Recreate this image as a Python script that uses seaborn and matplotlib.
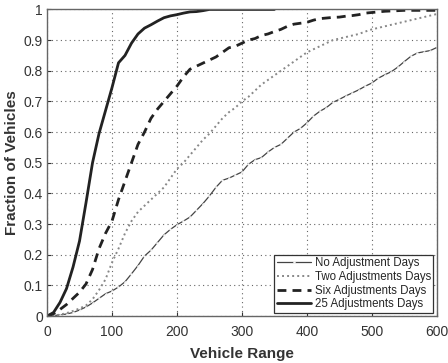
import numpy as np
import pandas as pd
import matplotlib.pyplot as plt
import seaborn as sns

# Vehicle range grid (every 10 units)
range_full = list(range(0, 610, 10))
range_25 = list(range(0, 360, 10))

no_adj = [0, 0.002, 0.004, 0.007, 0.012, 0.02, 0.03, 0.043, 0.058, 0.073,
          0.082, 0.095, 0.112, 0.138, 0.165, 0.196, 0.215, 0.24, 0.265, 0.283,
          0.298, 0.31, 0.323, 0.345, 0.367, 0.392, 0.42, 0.443, 0.45, 0.46,
          0.47, 0.495, 0.51, 0.517, 0.535, 0.55, 0.56, 0.58, 0.6, 0.612,
          0.63, 0.652, 0.668, 0.68, 0.697, 0.707, 0.718, 0.728, 0.738, 0.75,
          0.76, 0.776, 0.787, 0.797, 0.812, 0.83, 0.847, 0.858, 0.862, 0.866,
          0.876]

two_adj = [0, 0.002, 0.005, 0.01, 0.017, 0.025, 0.035, 0.055, 0.085, 0.12,
           0.175, 0.22, 0.27, 0.31, 0.34, 0.36, 0.38, 0.40, 0.42, 0.45,
           0.48, 0.50, 0.525, 0.55, 0.575, 0.595, 0.62, 0.645, 0.665, 0.68,
           0.70, 0.715, 0.735, 0.755, 0.77, 0.785, 0.80, 0.815, 0.83, 0.845,
           0.86, 0.87, 0.88, 0.89, 0.90, 0.905, 0.91, 0.915, 0.92, 0.928,
           0.935, 0.94, 0.945, 0.95, 0.955, 0.96, 0.965, 0.97, 0.975, 0.98,
           0.985]

six_adj = [0, 0.008, 0.022, 0.038, 0.058, 0.078, 0.105, 0.152, 0.22, 0.27,
           0.31, 0.38, 0.44, 0.50, 0.56, 0.60, 0.645, 0.675, 0.70, 0.725,
           0.75, 0.78, 0.805, 0.815, 0.825, 0.835, 0.845, 0.86, 0.875, 0.88,
           0.89, 0.90, 0.905, 0.915, 0.92, 0.928, 0.935, 0.945, 0.952, 0.955,
           0.958, 0.965, 0.97, 0.972, 0.974, 0.975, 0.978, 0.98, 0.983, 0.988,
           0.99, 0.992, 0.994, 0.995, 0.996, 0.997, 0.997, 0.997, 0.997, 0.997,
           0.997]

adj_25 = [0, 0.012, 0.045, 0.09, 0.16, 0.245, 0.37, 0.50, 0.595, 0.67,
          0.745, 0.826, 0.85, 0.89, 0.92, 0.939, 0.95, 0.962, 0.973, 0.979,
          0.983, 0.988, 0.992, 0.993, 0.996, 1.0, 1.0, 1.0, 1.0, 1.0,
          1.0, 1.0, 1.0, 1.0, 1.0, 1.0]

sns.set_style("ticks")
plt.rcParams['font.family'] = ['Liberation Sans', 'DejaVu Sans']

fig = plt.figure(figsize=(4.48, 3.63), dpi=100)
ax = fig.add_axes([0.105, 0.129, 0.87, 0.845])

sns.lineplot(x=range_full, y=no_adj, ax=ax, color="#444444", linewidth=0.9,
             marker=".", markersize=2, label="No Adjustment Days")
sns.lineplot(x=range_full, y=two_adj, ax=ax, color="#888888", linewidth=1.4,
             linestyle=(0, (1, 1.6)), label="Two Adjustments Days")
sns.lineplot(x=range_full, y=six_adj, ax=ax, color="#222222", linewidth=2.0,
             linestyle=(0, (3.2, 2.2)), label="Six Adjustments Days")
sns.lineplot(x=range_25, y=adj_25, ax=ax, color="#222222", linewidth=2.0,
             label="25 Adjustments Days")

ax.set_xlim(0, 600)
ax.set_ylim(0, 1)
ax.set_xticks(range(0, 700, 100))
ax.set_yticks(np.round(np.arange(0, 1.01, 0.1), 1))
ax.set_yticklabels(["0", "0.1", "0.2", "0.3", "0.4", "0.5", "0.6", "0.7", "0.8", "0.9", "1"])
ax.grid(True, color="#666666", linestyle=(0, (1, 3)), linewidth=0.8)
ax.tick_params(direction="in", length=3, labelsize=10, colors="#333333")
ax.tick_params(axis="x", pad=6)
ax.tick_params(axis="y", pad=3)
for s in ax.spines.values():
    s.set_color("#666666")
    s.set_linewidth(1.0)

ax.set_xlabel("Vehicle Range", fontsize=11, fontweight="bold", color="#333333", labelpad=6)
ax.set_ylabel("Fraction of Vehicles", fontsize=11, fontweight="bold", color="#333333", labelpad=3)

leg = ax.legend(loc="lower right", fontsize=8.3, frameon=True, fancybox=False,
                edgecolor="#333333", framealpha=1, borderpad=0.2, labelspacing=0.15,
                handlelength=3.0, handletextpad=0.3, borderaxespad=0.3)
leg.get_frame().set_linewidth(0.9)

fig.savefig("out.png", dpi=100)
